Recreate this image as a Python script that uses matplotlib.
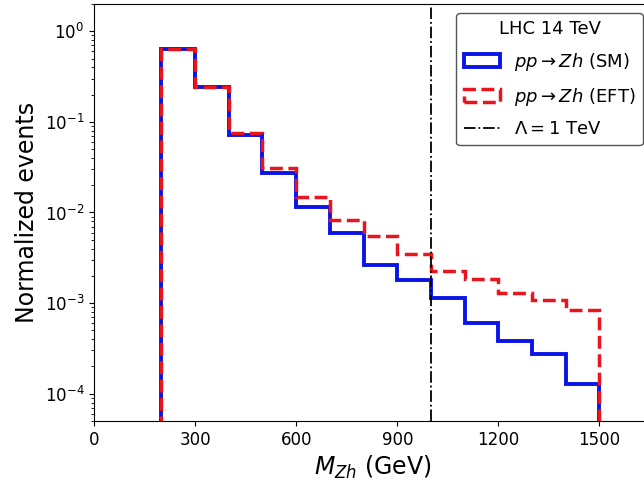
import numpy as np
import matplotlib
matplotlib.use('Agg')
import matplotlib.pyplot as plt

# Bin edges in GeV
edges = [200, 300, 400, 500, 600, 700, 800, 900, 1000, 1100, 1200, 1300, 1400, 1500]

# Normalized events per bin
sm = [0.63, 0.243, 0.0713, 0.0272, 0.0116, 0.0059, 0.00266, 0.00178,
      0.00115, 0.00060, 0.00038, 0.000275, 0.000127]
eft = [0.63, 0.243, 0.0757, 0.0306, 0.0149, 0.0083, 0.0055, 0.00348,
       0.00228, 0.00184, 0.00128, 0.00108, 0.00084]

cutoff = 1000
xticks = [0, 300, 600, 900, 1200, 1500]

fig = plt.figure(figsize=(6.44, 4.83), dpi=100)
ax = fig.add_axes([94 / 644, 62 / 483, 558 / 644, 417 / 483])

centers = np.array(edges[:-1]) + 50
ax.hist(centers, bins=edges, weights=sm, histtype='step', color='#0a14e6',
        linewidth=2.8, label=r'$pp \rightarrow Zh$ (SM)')
ax.hist(centers, bins=edges, weights=eft, histtype='step', color='#e8141e',
        linewidth=2.5, linestyle='--', label=r'$pp \rightarrow Zh$ (EFT)')
ax.axvline(cutoff, color='black', linestyle='-.', linewidth=1.3,
           label=r'$\Lambda = 1$ TeV')

ax.set_yscale('log')
ax.set_xlim(0, 1656)
ax.set_ylim(5e-5, 2)
ax.set_xticks(xticks)
ax.tick_params(labelsize=12)
ax.set_xlabel(r'$M_{Zh}$ (GeV)', fontsize=17)
ax.set_ylabel('Normalized events', fontsize=17)

leg = ax.legend(title='LHC 14 TeV', loc='upper right', fontsize=13,
                title_fontsize=13, framealpha=1, edgecolor='#555555',
                labelspacing=0.7)

fig.savefig('out.png', dpi=100)
